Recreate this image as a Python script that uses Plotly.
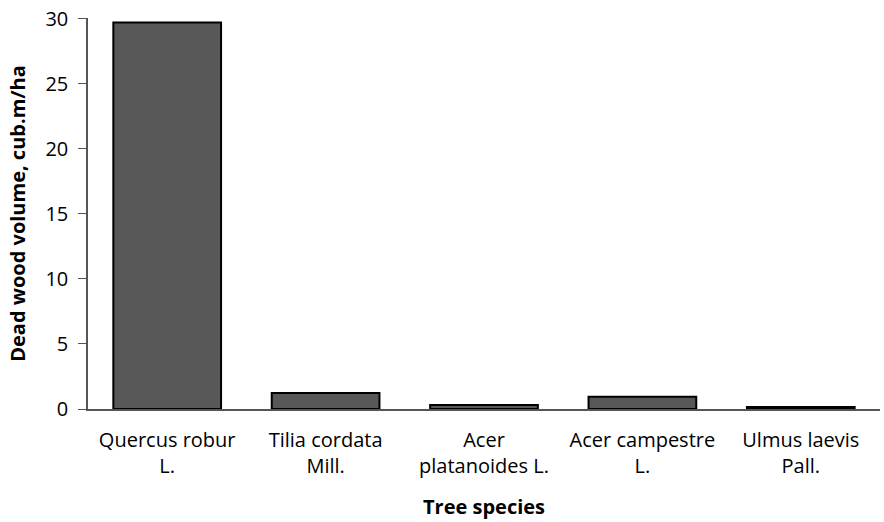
import plotly.graph_objects as go

species = ["Quercus robur<br>L.", "Tilia cordata<br>Mill.", "Acer<br>platanoides L.", "Acer campestre<br>L.", "Ulmus laevis<br>Pall."]
volume = [29.7, 1.23, 0.3, 0.95, 0.15]
y_ticks = [0, 5, 10, 15, 20, 25, 30]

fig = go.Figure(go.Bar(
    x=species, y=volume,
    marker=dict(color="#585858", line=dict(color="#000000", width=2)),
    width=0.68,
))
fig.update_layout(
    width=884, height=522,
    margin=dict(l=88, r=4, t=18, b=113),
    plot_bgcolor="white", paper_bgcolor="white",
    font=dict(family="Open Sans, Liberation Sans, sans-serif", size=20, color="#000"),
    showlegend=False,
)
fig.update_xaxes(
    showline=True, linecolor="#555", linewidth=1.5, automargin=False,
    ticks="outside", ticklen=12, tickcolor="rgba(0,0,0,0)", tickfont=dict(size=20),
    title=dict(text="<b>Tree species</b>", font=dict(size=20), standoff=22),
)
fig.update_yaxes(
    range=[0, 30.05], tickvals=y_ticks, showgrid=False, zeroline=False,
    showline=True, linecolor="#555", linewidth=1.5, automargin=False,
    ticks="outside", ticklen=8, tickcolor="#555", tickfont=dict(size=20),
    ticklabelstandoff=6, ticklabeloverflow="allow",
    title=dict(text="<b>Dead wood volume, cub.m/ha</b>", font=dict(size=20), standoff=14),
)
fig.write_html("out.html", config={"displayModeBar": False},
               post_script="document.body.style.margin='0';")
